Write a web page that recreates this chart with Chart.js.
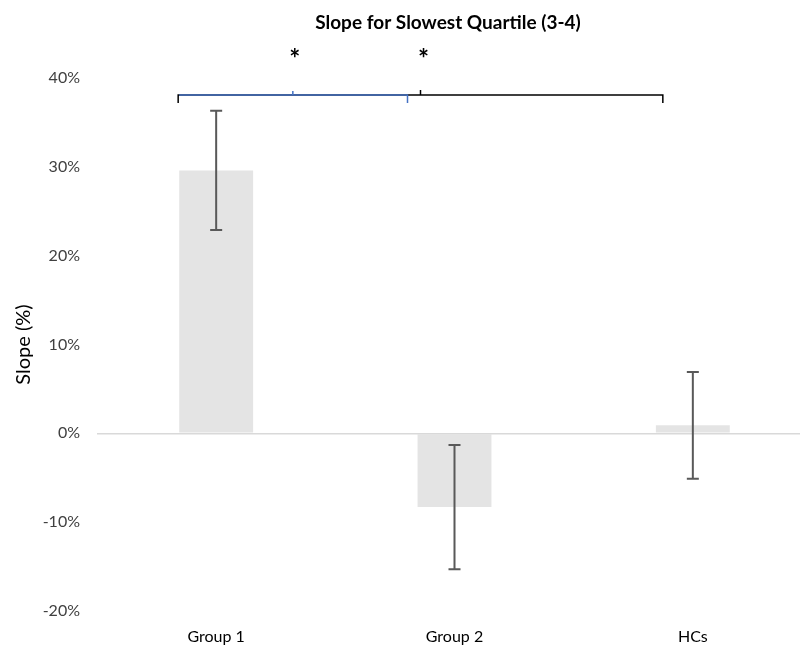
<!DOCTYPE html>
<html>
<head>
<meta charset="utf-8">
<script src="https://cdn.jsdelivr.net/npm/chart.js@4.4.1/dist/chart.umd.min.js"></script>
<style>
  html, body { margin: 0; padding: 0; background: #fff; overflow: hidden; }
  #wrap { position: relative; width: 812px; height: 646px; }
</style>
</head>
<body>
<div id="wrap"><canvas id="myChart"></canvas></div>
<script>
var groups = ['Group 1', 'Group 2', 'HCs'];
var slopes = [29.6, -8.3, 0.9];
var errors = [6.7, 7.0, 6.0];
var yTicks = [-20, -10, 0, 10, 20, 30, 40];

// overlay: error bars, significance brackets, title
var extras = {
    id: 'extras',
    afterDatasetsDraw: function (chart) {
        var c = chart.ctx;
        var x = chart.scales.x, y = chart.scales.y;
        c.save();
        // error bars
        c.strokeStyle = '#595959';
        c.lineWidth = 2;
        for (var i = 0; i < slopes.length; i++) {
            var px = x.getPixelForValue(i);
            var top = y.getPixelForValue(slopes[i] + errors[i]);
            var bot = y.getPixelForValue(slopes[i] - errors[i]);
            c.beginPath();
            c.moveTo(px, top); c.lineTo(px, bot);
            c.moveTo(px - 6, top); c.lineTo(px + 6, top);
            c.moveTo(px - 6, bot); c.lineTo(px + 6, bot);
            c.stroke();
        }
        // brackets
        var by = 95;
        var l = x.getPixelForValue(0) - 38;
        var rBlack = x.getPixelForValue(2) - 30;
        var rBlue = x.getPixelForValue(1) - 47;
        c.lineWidth = 1.5;
        c.strokeStyle = '#000';
        c.beginPath();
        c.moveTo(l, by + 8); c.lineTo(l, by); c.lineTo(rBlack, by); c.lineTo(rBlack, by + 8);
        var mBlack = (l + rBlack) / 2;
        c.moveTo(mBlack, by); c.lineTo(mBlack, by - 5);
        c.stroke();
        c.strokeStyle = '#4472c4';
        c.beginPath();
        c.moveTo(l + 1, by); c.lineTo(rBlue, by); c.lineTo(rBlue, by + 8);
        var mBlue = (l + rBlue) / 2;
        c.moveTo(mBlue, by); c.lineTo(mBlue, by - 4);
        c.stroke();
        // asterisks
        c.fillStyle = '#000';
        c.font = 'bold 26px Lato';
        c.textAlign = 'center';
        c.textBaseline = 'middle';
        c.fillText('*', mBlue + 2, 60);
        c.fillText('*', mBlack + 3, 60);
        // title
        c.font = 'bold 19px Lato';
        c.fillText('Slope for Slowest Quartile (3-4)', 448, 23);
        c.restore();
    }
};

var ctx = document.getElementById('myChart').getContext('2d');
var myChart = new Chart(ctx, {
    type: 'bar',
    data: {
        labels: groups,
        datasets: [{
            label: 'Slope',
            data: slopes,
            backgroundColor: '#e4e4e4',
            barPercentage: 0.31,
            categoryPercentage: 1
        }]
    },
    options: {
        responsive: true,
        maintainAspectRatio: false,
        animation: false,
        layout: { padding: { top: 78, right: 0, left: 0, bottom: 0 } },
        plugins: {
            legend: { display: false },
            tooltip: { enabled: false }
        },
        scales: {
            x: {
                grid: { display: false },
                border: { display: false },
                ticks: { color: '#000', font: { family: 'Lato', size: 16 }, padding: 8 },
                afterFit: function (s) { s.height = 35; }
            },
            y: {
                min: -20,
                max: 40,
                afterBuildTicks: function (s) { s.ticks = yTicks.map(function (v) { return { value: v }; }); },
                border: { display: false },
                grid: {
                    drawTicks: false,
                    lineWidth: 1.5,
                    color: function (c) { return c.tick && c.tick.value === 0 ? '#d9d9d9' : 'rgba(0,0,0,0)'; }
                },
                ticks: {
                    color: '#404040',
                    font: { family: 'Lato', size: 16 },
                    padding: 17,
                    callback: function (v) { return v + '%'; }
                },
                title: {
                    display: true,
                    text: 'Slope (%)',
                    color: '#000',
                    font: { family: 'Lato', size: 20 },
                    padding: { top: 12, bottom: 0 }
                },
                afterFit: function (s) { s.width = 97; }
            }
        }
    },
    plugins: [extras]
});
</script>
</body>
</html>
